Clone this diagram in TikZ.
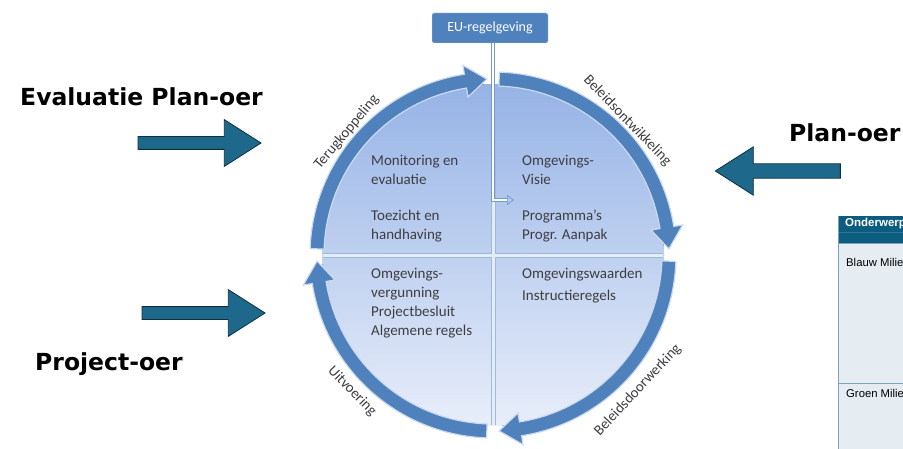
\documentclass[tikz,border=0pt]{standalone}
\usepackage{fontspec}
\setmainfont{Carlito}
\newfontfamily\oerfont{DejaVu Sans}
\newfontfamily\tablefont{Liberation Sans}
\usetikzlibrary{arrows.meta, shapes.arrows, positioning}
\definecolor{ringblue}{RGB}{79,129,189}
\definecolor{oerblue}{RGB}{30,104,140}
\definecolor{headteal}{RGB}{12,92,128}
\definecolor{cellblue}{RGB}{229,237,243}
\definecolor{cellline}{RGB}{125,162,186}
\definecolor{quadtext}{RGB}{62,62,66}
\tikzset{%
>={Triangle[open, width=10pt, length=7pt]},
  % Specifications for the cycle:
            ringarrow/.style = {fill=ringblue, draw=white!70!ringblue,
                            line width=1.2pt, line join=miter},
            quad/.style = {anchor=west, align=left, inner sep=0pt, text=quadtext,
                            font=\fontsize{15}{19}\selectfont},
            phase/.style = {inner sep=0pt, text=quadtext,
                            font=\fontsize{14.8}{16}\selectfont},
            eubox/.style = {rectangle, rounded corners=2pt, fill=ringblue,
                            draw=white!70!ringblue, minimum width=116pt,
                            minimum height=30pt, text=white,
                            font=\fontsize{14}{16}\selectfont},
            eulink/.style = {draw=ringblue!80, double=white, double distance=2.4pt,
                            line width=0.7pt, ->},
  % Specifications for the oer arrows and the table:
            oerarrow/.style = {single arrow, fill=oerblue, draw=black!55!oerblue,
                            line width=0.8pt, inner xsep=0pt, inner ysep=6pt,
                            single arrow head extend=17pt, single arrow tip angle=65,
                            minimum height=123pt},
            oerlabel/.style = {anchor=base west, inner sep=0pt,
                            font=\oerfont\bfseries\fontsize{23.5}{28}\selectfont},
            cell/.style = {anchor=west, inner sep=0pt,
                            font=\tablefont\fontsize{11.3}{13}\selectfont}
}
% one block arrow of the cycle, #1 start angle, #2 tip angle (clockwise)
\newcommand{\cyclearrow}[2]{%
  \pgfmathsetmacro{\headbase}{#2+7}
  \filldraw[ringarrow] (#1:183) arc[start angle=#1, end angle=\headbase, radius=183]
    -- (\headbase:192) -- (#2:176) -- (\headbase:160) -- (\headbase:169)
    arc[start angle=\headbase, end angle=#1, radius=169] -- cycle;
}

\begin{document}
\begin{tikzpicture}[x=1pt, y=1pt]
                \useasboundingbox (0,0) rectangle (903,448);
                \clip (0,0) rectangle (903,448);

                % the cycle
                \begin{scope}[shift={(493,193)}]
                \fill[top color={rgb,255:red,150;green,179;blue,230},
                      bottom color={rgb,255:red,232;green,238;blue,250}] (0,0) circle[radius=171];
                \draw[ringblue!55, line width=5pt] (-170,0) -- (170,0);
                \draw[ringblue!55, line width=5pt] (0,-170) -- (0,170);
                \draw[white!85!ringblue, line width=3pt] (-170,0) -- (170,0);
                \draw[white!85!ringblue, line width=3pt] (0,-170) -- (0,170);

                \cyclearrow{178}{92}
                \cyclearrow{88}{2}
                \cyclearrow{-2}{-88}
                \cyclearrow{-92}{-178}

                \node[phase, rotate=50] (terug) at (140:191) {Terugkoppeling};
                \node[phase, rotate=-46] (ontw) at (45:190) {Beleidsontwikkeling};
                \node[phase, rotate=47] (door) at (-43:198) {Beleidsdoorwerking};
                \node[phase, rotate=-46] (uitv) at (-136:196) {Uitvoering};
                \end{scope}

                \node[quad] (monitor) at (371,278.5) {Monitoring en\\evaluatie};
                \node[quad] (toezicht) at (371,221.5) {Toezicht en\\handhaving};
                \node[quad] (visie) at (522,278.5) {Omgevings-\\Visie};
                \node[quad] (progr) at (522,221.5) {Programma’s\\Progr. Aanpak};
                \node[quad] (vergun) at (371,144.5) {Omgevings-\\vergunning\\Projectbesluit\\Algemene regels};
                \node[quad] (waarden) at (522,162) {Omgevingswaarden\\[3pt]Instructieregels};

                \node[eubox] (eu) at (490,420) {EU-regelgeving};
                \coordinate (eubend) at (493,248);
                \coordinate[right=21pt of eubend] (euend);
                \draw[eulink] (eu.south -| eubend) -- (eubend) -- (euend);

                % oer arrows and labels
                \node[oerlabel] (evallabel) at (20,342) {Evaluatie Plan-oer};
                \node[oerarrow] (evalarrow) at (194.5,305) {};
                \node[oerarrow] (projarrow) at (198.5,135) {};
                \node[oerlabel] (projlabel) at (35,78) {Project-oer};
                \node[oerlabel] (planlabel) at (789,306) {Plan-oer};
                \node[oerarrow, shape border rotate=180, minimum height=125pt,
                      inner ysep=6.8pt] (planarrow) at (783.5,277) {};

                % table
                \fill[headteal] (838,205) rectangle (910,232);
                \draw[headteal!85!white] (838,215.5) -- (910,215.5);
                \fill[cellblue] (838,-5) rectangle (910,205);
                \draw[cellline] (838,-5) -- (838,232);
                \draw[cellline] (838,205) -- (910,205);
                \draw[cellline] (838,65) -- (910,65);
                \node[cell, text=white, font=\tablefont\bfseries\fontsize{11.5}{13}\selectfont]
                      (onderwerp) at (845,224) {Onderwerp};
                \node[cell] (blauw) at (846,186) {Blauw Milieu};
                \node[cell] (groen) at (846,55) {Groen Milieu};

            \end{tikzpicture}
\end{document}
